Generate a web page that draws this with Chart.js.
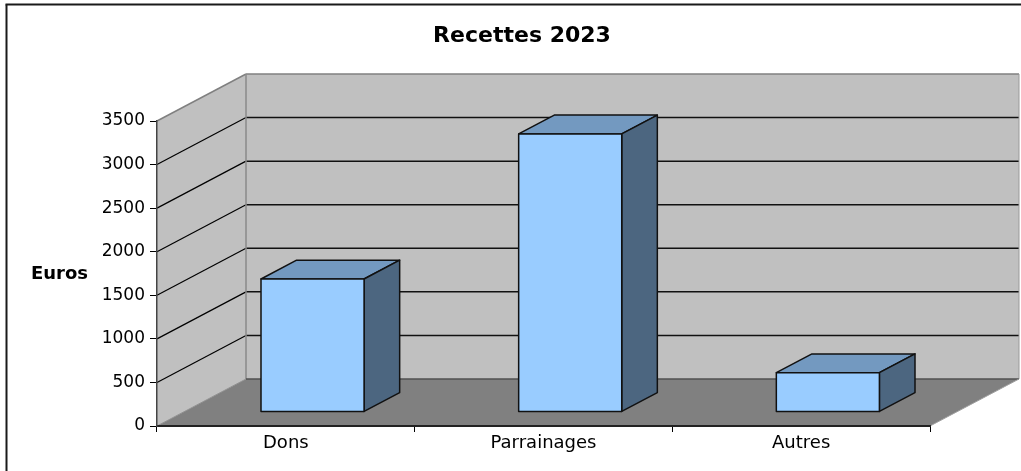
<!DOCTYPE html>
<html lang="fr">
<head>
<meta charset="UTF-8">
<title>Recettes 2023</title>
<script src="https://cdn.jsdelivr.net/npm/chart.js"></script>
<style>
    body { margin: 0; background: #fff; }
    canvas { display: block; }
</style>
</head>
<body>
<canvas id="chart" width="1021" height="471"></canvas>
<script>
    // data
    const categories = ['Dons', 'Parrainages', 'Autres'];
    const recettes = [1525, 3190, 450];
    const yMin = 0;
    const yMax = 3500;
    const yStep = 500;
    const titleText = 'Recettes 2023';
    const yTitle = 'Euros';

    // 3D look: depth vector of the box, bar sits between 30% and 70% of it
    const depth = { x: 89, y: -47 };
    const barFront = 0.3, barBack = 0.7;
    const wallRight = 1019;

    function poly(ctx, pts, fill, stroke, lw) {
        ctx.beginPath();
        ctx.moveTo(pts[0][0], pts[0][1]);
        for (let i = 1; i < pts.length; i++) ctx.lineTo(pts[i][0], pts[i][1]);
        ctx.closePath();
        if (fill) { ctx.fillStyle = fill; ctx.fill(); }
        if (stroke) { ctx.strokeStyle = stroke; ctx.lineWidth = lw || 1; ctx.stroke(); }
    }

    function line(ctx, x1, y1, x2, y2, color, lw) {
        ctx.beginPath();
        ctx.moveTo(x1, y1);
        ctx.lineTo(x2, y2);
        ctx.strokeStyle = color;
        ctx.lineWidth = lw || 1;
        ctx.stroke();
    }

    const box3d = {
        id: 'box3d',
        beforeDraw(chart) {
            const ctx = chart.ctx;
            const a = chart.chartArea;
            const ys = chart.scales.y;
            const dx = depth.x, dy = depth.y;
            ctx.save();
            // side wall
            poly(ctx, [[a.left, a.top], [a.left + dx, a.top + dy], [a.left + dx, a.bottom + dy], [a.left, a.bottom]], '#c0c0c0');
            // back wall
            poly(ctx, [[a.left + dx, a.top + dy], [wallRight, a.top + dy], [wallRight, a.bottom + dy], [a.left + dx, a.bottom + dy]], '#c0c0c0');
            // floor
            poly(ctx, [[a.left, a.bottom], [a.left + dx, a.bottom + dy], [wallRight, a.bottom + dy], [a.right, a.bottom]], '#808080');
            // grid lines on side and back wall
            ys.ticks.forEach(t => {
                const y = ys.getPixelForValue(t.value);
                if (t.value === yMin || t.value === yMax) return;
                line(ctx, a.left, y, a.left + dx, y + dy, '#000', 1.2);
                line(ctx, a.left + dx, y + dy, wallRight, y + dy, '#111', 1.5);
            });
            // wall edges
            line(ctx, a.left, a.top, a.left + dx, a.top + dy, '#808080', 1.5);
            line(ctx, a.left + dx, a.top + dy, wallRight, a.top + dy, '#808080', 1.5);
            line(ctx, a.left + dx, a.top + dy, a.left + dx, a.bottom + dy, '#8a8a8a', 1.5);
            line(ctx, wallRight, a.top + dy, wallRight, a.bottom + dy, '#9a9a9a', 1);
            line(ctx, a.left + dx, a.bottom + dy, wallRight, a.bottom + dy, '#505050', 1.5);
            line(ctx, a.left, a.bottom, a.left + dx, a.bottom + dy, '#909090', 1);
            line(ctx, a.right, a.bottom, wallRight, a.bottom + dy, '#a0a0a0', 1);
            ctx.restore();
        },
        afterDatasetsDraw(chart) {
            const ctx = chart.ctx;
            const fx = depth.x * barFront, fy = depth.y * barFront;
            const bx = depth.x * (barBack - barFront), by = depth.y * (barBack - barFront);
            ctx.save();
            ctx.lineJoin = 'round';
            chart.getDatasetMeta(0).data.forEach(el => {
                const l = el.x - el.width / 2 + fx, r = el.x + el.width / 2 + fx;
                const t = el.y + fy, b = el.base + fy;
                poly(ctx, [[l, t], [r, t], [r + bx, t + by], [l + bx, t + by]], '#7399c0', '#111', 1.5);
                poly(ctx, [[r, t], [r + bx, t + by], [r + bx, b + by], [r, b]], '#4c6680', '#111', 1.5);
                poly(ctx, [[l, t], [r, t], [r, b], [l, b]], '#99ccff', '#111', 1.5);
            });
            ctx.restore();
        },
        afterDraw(chart) {
            const ctx = chart.ctx;
            ctx.save();
            ctx.fillStyle = '#000';
            ctx.textBaseline = 'alphabetic';
            ctx.textAlign = 'center';
            ctx.font = 'bold 22px "DejaVu Sans"';
            ctx.fillText(titleText, 522, 42);
            ctx.textAlign = 'left';
            ctx.font = 'bold 18px "DejaVu Sans"';
            ctx.fillText(yTitle, 31, 279);
            // outer frame (only top and left edges are in the picture)
            line(ctx, 5.5, 4.5, 1021, 4.5, '#1a1a1a', 2);
            line(ctx, 6.5, 4.5, 6.5, 471, '#1a1a1a', 2);
            ctx.restore();
        }
    };

    new Chart(document.getElementById('chart'), {
        type: 'bar',
        data: {
            labels: categories,
            datasets: [{
                label: yTitle,
                data: recettes,
                backgroundColor: 'rgba(0,0,0,0)',
                borderWidth: 0,
                barPercentage: 0.4,
                categoryPercentage: 1
            }]
        },
        options: {
            responsive: false,
            animation: false,
            layout: { padding: { top: 121, right: 91, left: 0, bottom: 0 } },
            plugins: {
                legend: { display: false },
                title: { display: false },
                tooltip: { enabled: false }
            },
            scales: {
                x: {
                    afterFit(s) { s.height = 45; },
                    grid: {
                        drawOnChartArea: false,
                        drawTicks: true,
                        tickLength: 6,
                        color: '#000'
                    },
                    border: { display: true, color: '#222', width: 2 },
                    ticks: {
                        color: '#000',
                        padding: 1,
                        font: { family: 'DejaVu Sans', size: 18 }
                    }
                },
                y: {
                    min: yMin,
                    max: yMax,
                    afterFit(s) { s.width = 157; },
                    grid: {
                        drawOnChartArea: false,
                        drawTicks: true,
                        tickLength: 7,
                        color: '#000'
                    },
                    border: { display: true, color: '#444', width: 1.5 },
                    ticks: {
                        stepSize: yStep,
                        color: '#000',
                        padding: 5,
                        font: { family: 'DejaVu Sans', size: 17 },
                        callback: v => String(v)
                    }
                }
            }
        },
        plugins: [box3d]
    });
</script>
</body>
</html>
